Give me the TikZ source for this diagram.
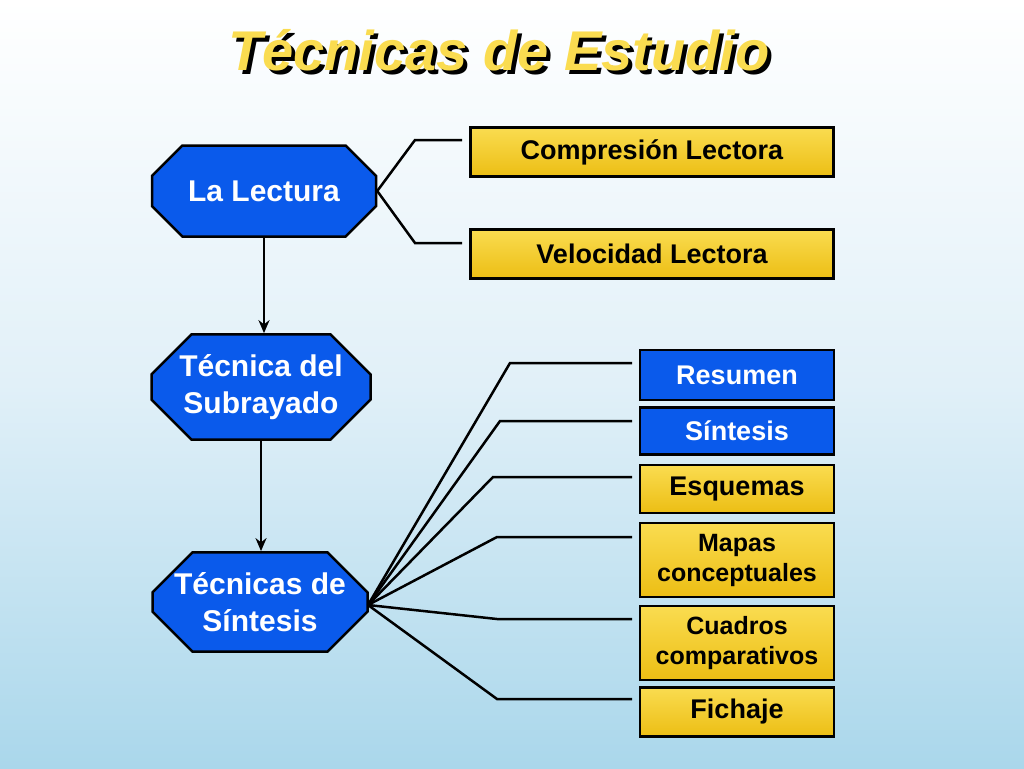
\documentclass[tikz,border=0pt]{standalone}
\usepackage{fontspec}
\setmainfont{Liberation Sans}
\usetikzlibrary{shapes.misc,arrows.meta}
\definecolor{bluef}{RGB}{10,90,235}
\definecolor{goldf}{RGB}{236,190,20}
\definecolor{goldl}{RGB}{250,220,80}
\tikzset{
 oct/.style={chamfered rectangle,chamfered rectangle xsep=20pt,chamfered rectangle ysep=20pt,draw=black,line width=2.5pt,fill=bluef,inner sep=0pt,font=\bfseries\fontsize{30}{37}\selectfont,text=white,align=center},
 ybox/.style={draw=black,line width=2.5pt,top color=goldl,bottom color=goldf,inner sep=0pt,font=\bfseries\fontsize{27}{29}\selectfont,align=center},
 bbox/.style={draw=black,line width=2.5pt,fill=bluef,text=white,inner sep=0pt,font=\bfseries\fontsize{27}{29}\selectfont,align=center},
 ln/.style={line width=2.5pt},
 ar/.style={line width=2.5pt,-{Stealth[length=13pt,width=11pt]}}
}
\begin{document}
\begin{tikzpicture}[x=1pt,y=-1pt]
\path[top color=white,bottom color={rgb,255:red,170;green,215;blue,235},middle color={rgb,255:red,225;green,240;blue,248}] (0,0) rectangle (1024,768);
\useasboundingbox (0,0) rectangle (1024,768);
\node (titles) at (503,54) {\bfseries\itshape\fontsize{56}{60}\selectfont\textcolor{black}{Técnicas de Estudio}};
\node (title) at (499,50) {\bfseries\itshape\fontsize{56}{60}\selectfont\textcolor{goldl}{Técnicas de Estudio}};
\node[oct,minimum width=224pt,minimum height=91pt] (lec) at (264,191) {La Lectura};
\node[oct,minimum width=219pt,minimum height=92pt] (sub) at (261,387) {Técnica del\\ Subrayado};
\node[oct,minimum width=215pt,minimum height=92pt] (sin) at (260,602) {Técnicas de\\ Síntesis};
\node[ybox,minimum width=363pt,minimum height=49pt] (comp) at (652,152) {Compresión Lectora};
\node[ybox,minimum width=363pt,minimum height=49pt] (vel) at (652,254) {Velocidad Lectora};
\node[bbox,minimum width=194pt,minimum height=50pt] (res) at (737,375) {Resumen};
\node[bbox,minimum width=194pt,minimum height=47pt] (sint) at (737,431) {Síntesis};
\node[ybox,minimum width=194pt,minimum height=48pt] (esq) at (737,489) {Esquemas};
\node[ybox,minimum width=194pt,minimum height=74pt,font=\bfseries\fontsize{25}{30}\selectfont] (map) at (737,560) {Mapas\\conceptuales};
\node[ybox,minimum width=194pt,minimum height=74pt,font=\bfseries\fontsize{25}{30}\selectfont] (cua) at (737,643) {Cuadros\\comparativos};
\node[ybox,minimum width=194pt,minimum height=49pt] (fic) at (737,712) {Fichaje};
\coordinate (l1) at (462,140); \coordinate (l2) at (462,243);
\draw[ln] (lec.east) -- (415,140) -- (l1);
\draw[ln] (lec.east) -- (415,243) -- (l2);
\draw[ar,line width=2.5pt] (lec.south) -- (lec.south |- sub.north);
\draw[ar,line width=2.5pt] (sub.south) -- (sub.south |- sin.north);
\coordinate (s) at (368,605);
\coordinate (r1) at (632,363); \coordinate (r2) at (632,421); \coordinate (r3) at (632,477);
\coordinate (r4) at (632,537); \coordinate (r5) at (632,619); \coordinate (r6) at (632,699);
\draw[ln] (s) -- (510,363) -- (r1);
\draw[ln] (s) -- (500,421) -- (r2);
\draw[ln] (s) -- (493,477) -- (r3);
\draw[ln] (s) -- (497,537) -- (r4);
\draw[ln] (s) -- (497,619) -- (r5);
\draw[ln] (s) -- (497,699) -- (r6);
\end{tikzpicture}
\end{document}
